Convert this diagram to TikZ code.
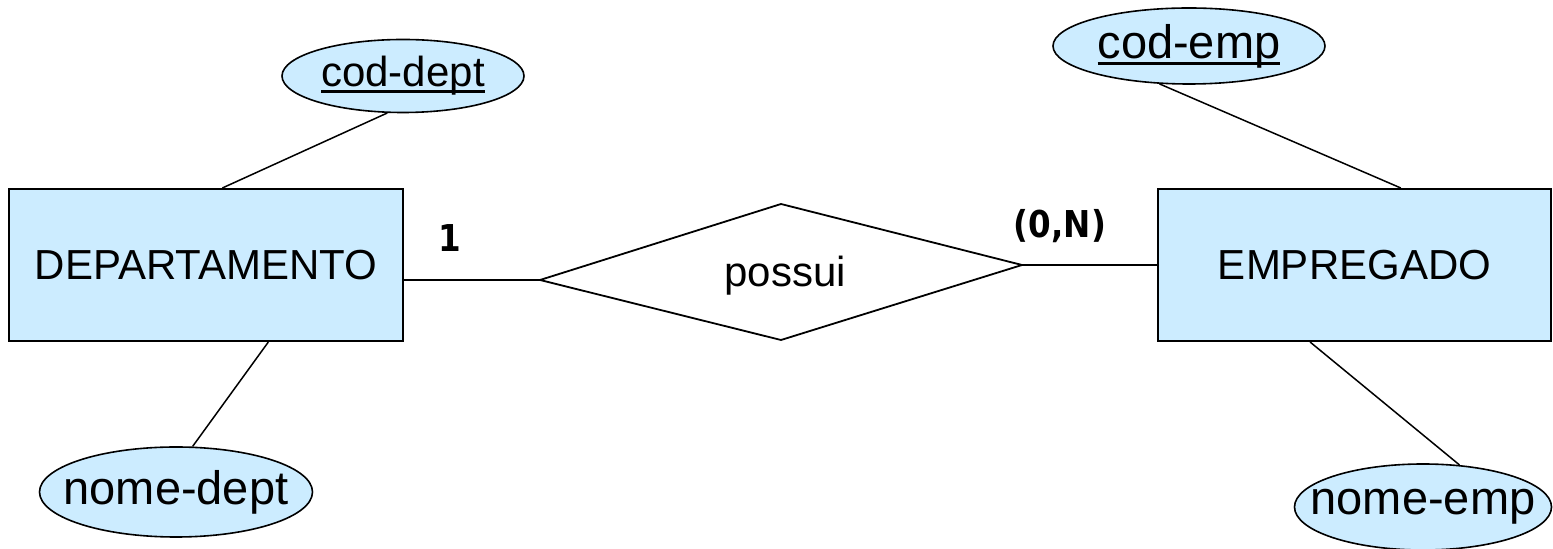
\documentclass[tikz,border=0pt]{standalone}
\usepackage{fontspec}
\setmainfont{Liberation Sans}
\newfontfamily\cardfont[FakeStretch=0.88]{DejaVu Sans}
\usetikzlibrary{positioning}
\usetikzlibrary{shapes.geometric}

\definecolor{entFill}{HTML}{CCECFF}
\newcommand{\pkey}[1]{\setbox0\hbox{#1}\rlap{\rule[-0.14em]{\wd0}{0.055em}}\box0}

\tikzset{
	entity/.style={rectangle, draw, fill=entFill, line width=1pt, inner sep=0pt, font=\fontsize{21}{21}\selectfont},
	attrib/.style={ellipse, draw, fill=entFill, line width=0.8pt, inner sep=0pt},
	attrText/.style={font=\fontsize{23.5}{23.5}\selectfont},
	card/.style={font=\cardfont\bfseries\fontsize{18.5}{18.5}\selectfont},
	link/.style={line width=0.75pt}
}

\begin{document}
\begin{tikzpicture}[x=0.5pt, y=-0.5pt]
	\useasboundingbox (0,0) rectangle (1553,549);

	\node[entity, minimum width=197pt, minimum height=76pt](dept) at (206,265){DEPARTAMENTO};
	\node[entity, minimum width=196.5pt, minimum height=76pt](emp) at (1354.5,265){EMPREGADO};

	\node[attrib, minimum width=121pt, minimum height=36.5pt, label={[font=\fontsize{21}{21}\selectfont]center:{\pkey{cod-dept}}}](codDept) at (403,76){};
	\node[attrib, minimum width=136.5pt, minimum height=45pt, label={[attrText]center:{nome-dept}}](nomeDept) at (176,492){};
	\node[attrib, minimum width=136pt, minimum height=38pt, label={[attrText]center:{\pkey{cod-emp}}}](codEmp) at (1189,46){};
	\node[attrib, minimum width=128.5pt, minimum height=43pt, label={[attrText]center:{nome-emp}}](nomeEmp) at (1423,507){};

	\coordinate (relL) at (540,280);
	\coordinate (relT) at (781,204);
	\coordinate (relR) at (1022,265);
	\coordinate (relB) at (781,340);
	\draw[line width=0.9pt] (relL) -- (relT) -- (relR) -- (relB) -- cycle;
	\node[font=\fontsize{21}{21}\selectfont](possui) at (785,276){possui};

	\draw[link](dept.east |- relL) -- (relL);
	\draw[link](relR) -- (emp.west);
	\draw[link](codDept.247) -- (dept.78);
	\draw[link](nomeDept.70) -- (dept.309);
	\draw[link](codEmp.232) -- (emp.59);
	\draw[link](nomeEmp.49) -- (emp.240);

	\node[card](cardDept) at (449.5,238){1};
	\node[card](cardEmp) at (1060,226){(0,N)};
\end{tikzpicture}
\end{document}
